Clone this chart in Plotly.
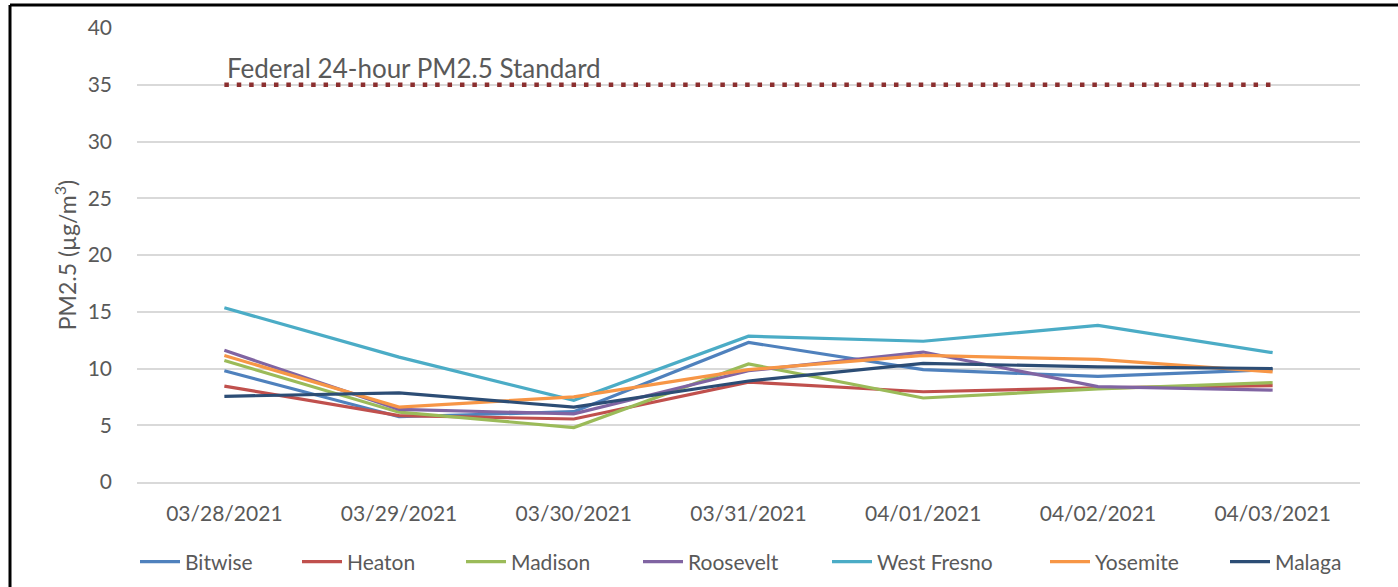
import plotly.graph_objects as go

dates = ["03/28/2021", "03/29/2021", "03/30/2021", "03/31/2021",
         "04/01/2021", "04/02/2021", "04/03/2021"]

bitwise = [9.8, 5.75, 6.2, 12.3, 9.9, 9.3, 9.9]
heaton = [8.45, 5.85, 5.55, 8.8, 7.95, 8.3, 8.5]
madison = [10.7, 6.15, 4.8, 10.4, 7.4, 8.2, 8.75]
roosevelt = [11.6, 6.4, 6.0, 9.8, 11.45, 8.4, 8.1]
west_fresno = [15.35, 11.0, 7.2, 12.85, 12.4, 13.8, 11.4]
yosemite = [11.15, 6.6, 7.5, 9.9, 11.15, 10.8, 9.7]
malaga = [7.55, 7.85, 6.6, 8.9, 10.45, 10.15, 10.0]

standard = 35
standard_label = "Federal 24-hour PM2.5 Standard"

series = [
    ("Bitwise", bitwise, "#4F81BD"),
    ("Heaton", heaton, "#C0504D"),
    ("Madison", madison, "#9BBB59"),
    ("Roosevelt", roosevelt, "#8064A2"),
    ("West Fresno", west_fresno, "#4BACC6"),
    ("Yosemite", yosemite, "#F79646"),
    ("Malaga", malaga, "#2C4D75"),
]

FONT = "Lato"
GRAY = "#595959"

W, H = 1398, 587
L, R, T, B = 137, 38, 28, 105
pw = W - L - R
ph = H - T - B

# legend entry start pixels (layout only)
legend_px = [135, 297, 461, 638, 827, 1045, 1225]

fig = go.Figure()

fig.add_trace(go.Scatter(
    x=[dates[0], dates[-1]], y=[standard, standard], mode="lines",
    line=dict(color="#8B2E2E", width=4.5, dash="4.5px,7.9px"),
    showlegend=False, hoverinfo="skip"))

legends = {}
for i, (name, vals, col) in enumerate(series):
    lg = "legend" if i == 0 else f"legend{i + 1}"
    fig.add_trace(go.Scatter(
        x=dates, y=vals, mode="lines", name=name, legend=lg,
        line=dict(color=col, width=3.2)))
    legends[lg] = dict(
        orientation="h", x=(legend_px[i] - L) / pw, xanchor="left",
        y=(T + ph - 562) / ph, yanchor="middle",
        font=dict(family=FONT, size=21, color=GRAY),
        itemwidth=40, bgcolor="rgba(0,0,0,0)", borderwidth=0)

fig.add_annotation(
    x=dates[0], y=standard, xref="x", yref="y", text=standard_label,
    showarrow=False, xanchor="left", yanchor="bottom", xshift=1, yshift=-1,
    font=dict(family=FONT, size=26, color=GRAY))

bx = (10 - L) / pw
by = (ph + T - 5) / ph

fig.add_shape(type="line", xref="paper", yref="paper", x0=bx, x1=bx,
              y0=-0.5, y1=by, line=dict(color="black", width=3), layer="above")
fig.add_shape(type="line", xref="paper", yref="paper", x0=bx, x1=1.2,
              y0=by, y1=by, line=dict(color="black", width=3), layer="above")

fig.update_layout(
    width=W, height=H,
    margin=dict(l=L, r=R, t=T, b=B, pad=0, autoexpand=False),
    paper_bgcolor="white", plot_bgcolor="white",
    font=dict(family=FONT, size=20, color=GRAY),
    showlegend=True,
    xaxis=dict(type="category", categoryorder="array", categoryarray=dates,
               range=[-0.5, 6.5], showgrid=False, automargin=False,
               showline=True, linecolor="#D9D9D9", linewidth=1.5,
               ticks="", tickfont=dict(family=FONT, size=21, color=GRAY),
               ticklabelstandoff=12),
    yaxis=dict(range=[0, 40], dtick=5, showgrid=True, gridcolor="#D9D9D9",
               gridwidth=1.5, zeroline=False, showline=False, ticks="",
               automargin=False,
               tickfont=dict(family=FONT, size=21, color=GRAY),
               ticklabelstandoff=24,
               title=dict(text="PM2.5 (µg/m<sup>3</sup>)", standoff=4,
                          font=dict(family=FONT, size=23, color=GRAY))),
    **legends,
)

fig.write_html("out.html", config={"displayModeBar": False},
               post_script="document.body.style.margin='0';"
                           "document.body.style.overflow='hidden';")
